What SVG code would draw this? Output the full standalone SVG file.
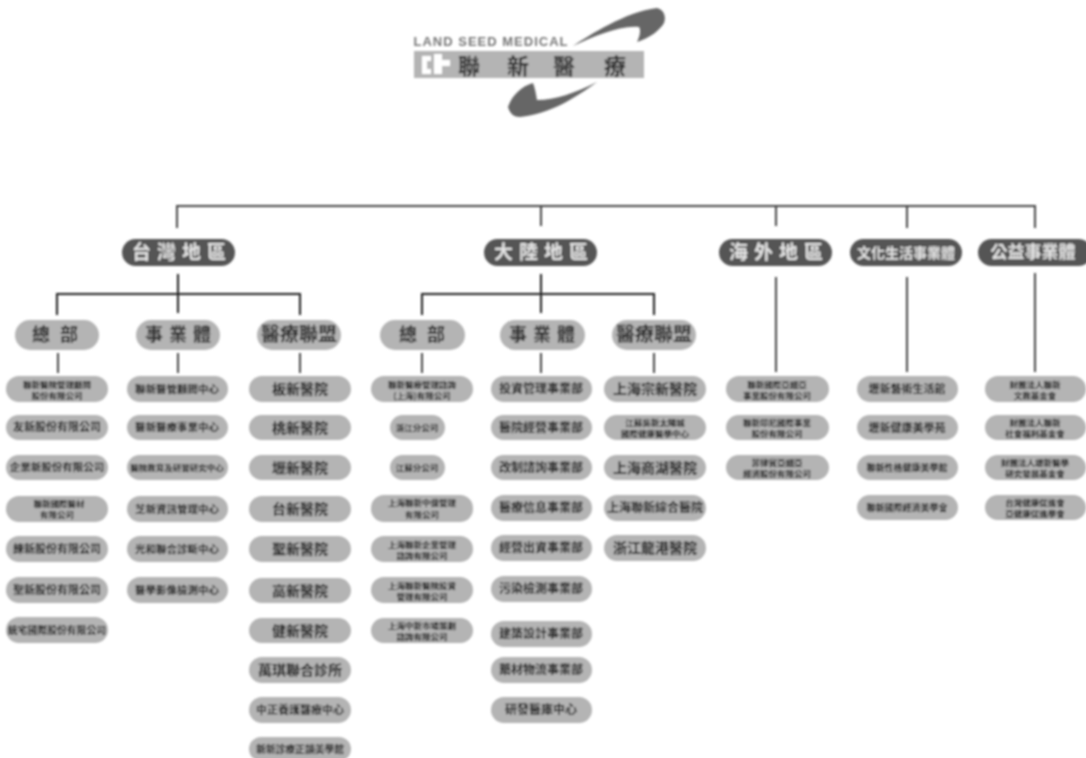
<svg xmlns="http://www.w3.org/2000/svg" width="1086" height="758" viewBox="0 0 1086 758">
<style>
text{font-family:"Noto Sans CJK TC","Noto Sans CJK SC",sans-serif;text-anchor:middle;font-weight:700}
.d rect{fill:#555}.d text{fill:#e4e4e4;font-size:19px}
.m rect{fill:#b4b4b4}.m text{fill:#2e2e2e;font-size:18px}
.s rect{fill:#b4b4b4}.s text{fill:#222;font-size:11px}
.t text{font-size:8.5px}
.l{fill:none;stroke:#444;stroke-width:2}
.k{stroke:#222}
</style>
<defs><filter id="b" x="0" y="0" width="1086" height="758" filterUnits="userSpaceOnUse"><feGaussianBlur stdDeviation="1"/></filter></defs>
<rect width="1086" height="758" fill="#fff"/>
<g filter="url(#b)">
<g id="logo">
<rect x="414" y="51" width="230" height="27" fill="#b4b4b4"/>
<path d="M422 56h9v5h-4v8h4v5h-9zM434 54h8v6h8v6h-8v8h-8z" fill="#fff"/>
<text x="491" y="45.5" style="font-family:'Liberation Sans',sans-serif;font-size:13px;letter-spacing:1px" fill="#777">LAND SEED MEDICAL</text>
<g style="font-size:22px" fill="#333"><text x="469" y="74">聯</text><text x="518" y="74">新</text><text x="564" y="74">醫</text><text x="615" y="74">療</text></g>
<path d="M573 46C590 35 625 12 657 8C665 10 666 18 664 23C660 30 650 38 637 42C640 36 641 30 639 27C620 25 595 36 573 46Z" fill="#666"/>
<path d="M597 82C575 93 555 100 537 100C536 94 535 88 533 83C522 86 512 95 508 107C510 114 514 117 520 117C550 114 575 98 597 82Z" fill="#666"/>
</g>
<g id="connectors">
<path class="l" d="M177 228V206H1035V228M541 206V226M776 206V226M907 206V228"/>
<path class="l k" d="M178 274V313M57 315V294H300V315M541 274V313M422 315V294H654V315"/>
<path class="l" d="M58 353V373M178 353V373M300 353V373M422 353V373M541 353V373M654 353V373M776 277V372M907 277V372M1035 273V372"/>
</g>
<g id="n1" class="d"><rect x="122" y="239" width="113" height="27" rx="13.5"/><text x="182" y="259" letter-spacing="6">台灣地區</text></g>
<g id="n2" class="d"><rect x="484" y="239" width="113" height="27" rx="13.5"/><text x="544" y="259" letter-spacing="6">大陸地區</text></g>
<g id="n3" class="d"><rect x="719" y="239" width="113" height="27" rx="13.5"/><text x="779" y="259" letter-spacing="6">海外地區</text></g>
<g id="n4" class="d"><rect x="850" y="239" width="112" height="27" rx="13.5"/><text x="906" y="258" style="font-size:14px">文化生活事業體</text></g>
<g id="n5" class="d"><rect x="978" y="239" width="114" height="27" rx="13.5"/><text x="1033" y="258" style="font-size:17px">公益事業體</text></g>
<g id="n6" class="m"><rect x="15" y="320" width="84" height="30" rx="15"/><text x="60" y="341" letter-spacing="10">總部</text></g>
<g id="n7" class="m"><rect x="136" y="320" width="84" height="30" rx="15"/><text x="181" y="341" letter-spacing="6">事業體</text></g>
<g id="n8" class="m"><rect x="257" y="320" width="84" height="30" rx="15"/><text x="299" y="341" style="font-size:19px">醫療聯盟</text></g>
<g id="n9" class="m"><rect x="380" y="320" width="85" height="30" rx="15"/><text x="427" y="341" letter-spacing="10">總部</text></g>
<g id="n10" class="m"><rect x="500" y="320" width="85" height="30" rx="15"/><text x="545" y="341" letter-spacing="6">事業體</text></g>
<g id="n11" class="m"><rect x="612" y="320" width="84" height="30" rx="15"/><text x="654" y="341" style="font-size:19px">醫療聯盟</text></g>

<g id="a1" class="s t"><rect x="6" y="376" width="102" height="26" rx="13"/><text x="57" y="388">聯新醫院管理顧問</text><text x="57" y="399">股份有限公司</text></g>
<g id="a2" class="s"><rect x="6" y="415" width="102" height="25" rx="12.5"/><text x="57" y="431">友新股份有限公司</text></g>
<g id="a3" class="s"><rect x="6" y="455" width="102" height="25" rx="12.5"/><text x="57" y="471" style="font-size:10.5px">企業新股份有限公司</text></g>
<g id="a4" class="s t"><rect x="6" y="496" width="102" height="26" rx="13"/><text x="59" y="507">聯新國際醫材</text><text x="57" y="518">有限公司</text></g>
<g id="a5" class="s"><rect x="6" y="536" width="102" height="26" rx="13"/><text x="57" y="553">練新股份有限公司</text></g>
<g id="a6" class="s"><rect x="6" y="577" width="102" height="26" rx="13"/><text x="57" y="594">聖新股份有限公司</text></g>
<g id="a7" class="s"><rect x="6" y="617" width="102" height="26" rx="13"/><text x="57" y="634" style="font-size:9.8px">統宅國際股份有限公司</text></g>

<g id="b1" class="s"><rect x="127" y="376" width="101" height="26" rx="13"/><text x="177" y="393" style="font-size:10.5px">聯新醫管顧問中心</text></g>
<g id="b2" class="s"><rect x="127" y="415" width="101" height="25" rx="12.5"/><text x="177" y="431" style="font-size:10.5px">醫新醫療事業中心</text></g>
<g id="b3" class="s"><rect x="127" y="455" width="101" height="25" rx="12.5"/><text x="177" y="471" style="font-size:8.5px">醫院教育及研習研究中心</text></g>
<g id="b4" class="s"><rect x="127" y="496" width="101" height="26" rx="13"/><text x="177" y="513" style="font-size:10.5px">芝新資訊管理中心</text></g>
<g id="b5" class="s"><rect x="127" y="536" width="101" height="26" rx="13"/><text x="177" y="553" style="font-size:10.5px">光和聯合診斷中心</text></g>
<g id="b6" class="s"><rect x="127" y="577" width="101" height="26" rx="13"/><text x="177" y="594" style="font-size:10.5px">醫學影像檢測中心</text></g>

<g id="c1" class="s"><rect x="249" y="376" width="102" height="26" rx="13"/><text x="300" y="394" style="font-size:14px">板新醫院</text></g>
<g id="c2" class="s"><rect x="249" y="415" width="102" height="25" rx="12.5"/><text x="300" y="433" style="font-size:14px">桃新醫院</text></g>
<g id="c3" class="s"><rect x="249" y="455" width="102" height="25" rx="12.5"/><text x="300" y="473" style="font-size:14px">壢新醫院</text></g>
<g id="c4" class="s"><rect x="249" y="496" width="102" height="26" rx="13"/><text x="300" y="514" style="font-size:14px">台新醫院</text></g>
<g id="c5" class="s"><rect x="249" y="536" width="102" height="26" rx="13"/><text x="300" y="554" style="font-size:14px">聖新醫院</text></g>
<g id="c6" class="s"><rect x="249" y="578" width="102" height="25" rx="12.5"/><text x="300" y="596" style="font-size:14px">高新醫院</text></g>
<g id="c7" class="s"><rect x="249" y="618" width="102" height="25" rx="12.5"/><text x="300" y="636" style="font-size:14px">健新醫院</text></g>
<g id="c8" class="s"><rect x="249" y="657" width="102" height="26" rx="13"/><text x="300" y="675" style="font-size:14px">萬琪聯合診所</text></g>
<g id="c9" class="s"><rect x="249" y="697" width="102" height="26" rx="13"/><text x="300" y="714" style="font-size:11px">中正養護醫療中心</text></g>
<g id="c10" class="s"><rect x="249" y="737" width="102" height="24" rx="12"/><text x="300" y="753" style="font-size:9.8px">新新診療正韻美學館</text></g>

<g id="d1" class="s t"><rect x="371" y="376" width="102" height="26" rx="13"/><text x="422" y="388">聯新醫療管理諮詢</text><text x="422" y="399">(上海)有限公司</text></g>
<g id="d2" class="s t"><rect x="390" y="415" width="55" height="25" rx="12.5"/><text x="417" y="431">浙江分公司</text></g>
<g id="d3" class="s t"><rect x="390" y="455" width="55" height="25" rx="12.5"/><text x="417" y="471">江蘇分公司</text></g>
<g id="d4" class="s t"><rect x="371" y="495" width="102" height="27" rx="13"/><text x="422" y="506">上海聯新中億管理</text><text x="422" y="518">有限公司</text></g>
<g id="d5" class="s t"><rect x="371" y="536" width="102" height="26" rx="13"/><text x="422" y="548">上海聯新企業管理</text><text x="422" y="559">諮詢有限公司</text></g>
<g id="d6" class="s t"><rect x="371" y="577" width="102" height="26" rx="13"/><text x="422" y="589">上海聯新醫院投資</text><text x="422" y="600">管理有限公司</text></g>
<g id="d7" class="s t"><rect x="371" y="618" width="102" height="25" rx="12.5"/><text x="422" y="629">上海中新市場策劃</text><text x="422" y="640">諮詢有限公司</text></g>

<g id="e1" class="s"><rect x="491" y="376" width="101" height="26" rx="13"/><text x="541" y="393" style="font-size:12px">投資管理事業部</text></g>
<g id="e2" class="s"><rect x="491" y="415" width="101" height="25" rx="12.5"/><text x="541" y="432" style="font-size:12px">醫院經營事業部</text></g>
<g id="e3" class="s"><rect x="491" y="455" width="101" height="25" rx="12.5"/><text x="541" y="472" style="font-size:12px">改制諮詢事業部</text></g>
<g id="e4" class="s"><rect x="491" y="495" width="101" height="26" rx="13"/><text x="541" y="512" style="font-size:12px">醫療信息事業部</text></g>
<g id="e5" class="s"><rect x="491" y="535" width="101" height="26" rx="13"/><text x="541" y="552" style="font-size:12px">經營出資事業部</text></g>
<g id="e6" class="s"><rect x="491" y="576" width="101" height="26" rx="13"/><text x="541" y="593" style="font-size:12px">污染檢測事業部</text></g>
<g id="e7" class="s"><rect x="491" y="621" width="101" height="26" rx="13"/><text x="541" y="638" style="font-size:12px">建築設計事業部</text></g>
<g id="e8" class="s"><rect x="491" y="657" width="101" height="26" rx="13"/><text x="541" y="674" style="font-size:12px">藥材物流事業部</text></g>
<g id="e9" class="s"><rect x="491" y="697" width="101" height="26" rx="13"/><text x="541" y="714" style="font-size:12px">研發醫庫中心</text></g>

<g id="f1" class="s"><rect x="604" y="376" width="102" height="26" rx="13"/><text x="655" y="394" style="font-size:14px">上海宗新醫院</text></g>
<g id="f2" class="s t"><rect x="604" y="415" width="102" height="25" rx="12.5"/><text x="655" y="426">江蘇吳新太陽城</text><text x="655" y="437">國際健康醫學中心</text></g>
<g id="f3" class="s"><rect x="604" y="455" width="102" height="25" rx="12.5"/><text x="655" y="473" style="font-size:14px">上海商湖醫院</text></g>
<g id="f4" class="s"><rect x="604" y="495" width="102" height="26" rx="13"/><text x="655" y="512" style="font-size:12px">上海聯新綜合醫院</text></g>
<g id="f5" class="s"><rect x="604" y="535" width="102" height="26" rx="13"/><text x="655" y="553" style="font-size:14px">浙江龍港醫院</text></g>

<g id="g1" class="s t"><rect x="726" y="376" width="103" height="26" rx="13"/><text x="777" y="388">聯新國際亞細亞</text><text x="777" y="399">事業股份有限公司</text></g>
<g id="g2" class="s t"><rect x="726" y="415" width="103" height="25" rx="12.5"/><text x="777" y="426">聯新印尼國際事業</text><text x="777" y="437">股份有限公司</text></g>
<g id="g3" class="s t"><rect x="726" y="455" width="103" height="25" rx="12.5"/><text x="777" y="466">菲律賓亞細亞</text><text x="777" y="477">經濟股份有限公司</text></g>

<g id="h1" class="s"><rect x="857" y="376" width="101" height="26" rx="13"/><text x="907" y="393">壢新藝術生活館</text></g>
<g id="h2" class="s"><rect x="857" y="415" width="101" height="25" rx="12.5"/><text x="907" y="432">壢新健康美學苑</text></g>
<g id="h3" class="s"><rect x="857" y="455" width="101" height="25" rx="12.5"/><text x="907" y="471" style="font-size:9px">聯新性格健康美學館</text></g>
<g id="h4" class="s"><rect x="857" y="495" width="101" height="25" rx="12.5"/><text x="907" y="511" style="font-size:9px">聯新國際經濟美學會</text></g>

<g id="i1" class="s t"><rect x="985" y="376" width="101" height="26" rx="13"/><text x="1035" y="388">財團法人聯新</text><text x="1035" y="399">文教基金會</text></g>
<g id="i2" class="s t"><rect x="985" y="415" width="101" height="25" rx="12.5"/><text x="1035" y="426">財團法人聯新</text><text x="1035" y="437">社會福利基金會</text></g>
<g id="i3" class="s t"><rect x="985" y="455" width="101" height="25" rx="12.5"/><text x="1035" y="466">財團法人壢新醫學</text><text x="1035" y="477">研究發展基金會</text></g>
<g id="i4" class="s t"><rect x="985" y="495" width="101" height="25" rx="12.5"/><text x="1035" y="506">台灣健康促進會</text><text x="1035" y="517">亞健康促進學會</text></g>
</g>
</svg>
